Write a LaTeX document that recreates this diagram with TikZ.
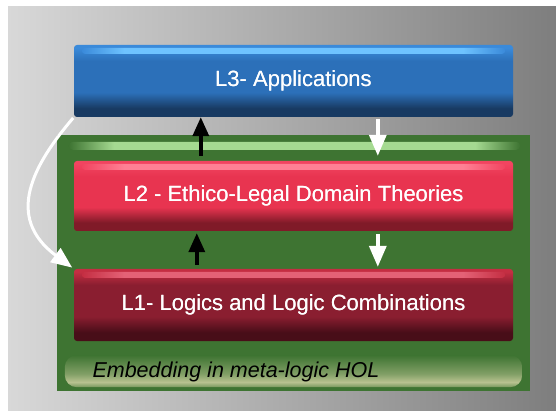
\documentclass[tikz,border=0pt]{standalone}
\usepackage{fontspec}
\setmainfont{Liberation Sans}
\usetikzlibrary{arrows.meta,calc}

\definecolor{bgL}{RGB}{216,216,216}
\definecolor{bgR}{RGB}{126,126,126}
\definecolor{gmain}{RGB}{62,116,50}
\definecolor{ghi}{RGB}{165,218,145}
\definecolor{gkhaki}{RGB}{184,194,144}
\definecolor{bhi}{RGB}{110,195,255}
\definecolor{bmid}{RGB}{44,112,185}
\definecolor{bdark}{RGB}{24,58,98}
\definecolor{btop}{RGB}{58,138,218}
\definecolor{rhi}{RGB}{255,128,148}
\definecolor{rmid}{RGB}{232,52,80}
\definecolor{rdark}{RGB}{128,26,40}
\definecolor{rtop}{RGB}{242,68,96}
\definecolor{qhi}{RGB}{228,98,118}
\definecolor{qmid}{RGB}{138,30,48}
\definecolor{qdark}{RGB}{72,14,24}
\definecolor{qtop}{RGB}{196,46,66}

% vertical body shadings (path fits 25bp..75bp)
\newcommand\bodyshading[4]{% name, top, mid, dark
  \pgfdeclareverticalshading{#1}{100bp}{color(0bp)=(#4); color(25bp)=(#4);
    color(31bp)=(#4); color(42bp)=(#3); color(64bp)=(#3); color(73bp)=(#2);
    color(75bp)=(#2); color(100bp)=(#2)}}
\bodyshading{blueshade}{btop}{bmid}{bdark}
\bodyshading{redshade}{rtop}{rmid}{rdark}
\bodyshading{dredshade}{qtop}{qmid}{qdark}
% horizontal highlight bands
\newcommand\bandshading[3]{% name, mid, hi
  \pgfdeclarehorizontalshading{#1}{100bp}{color(0bp)=(#2); color(25bp)=(#2);
    color(30bp)=(#3); color(70bp)=(#3); color(75bp)=(#2); color(100bp)=(#2)}}
\bandshading{blueband}{btop}{bhi}
\bandshading{redband}{rtop}{rhi}
\bandshading{dredband}{qtop}{qhi}
\bandshading{greenband}{gmain}{ghi}
\pgfdeclareverticalshading{khakiband}{100bp}{color(0bp)=(gmain); color(25bp)=(gmain!55!gkhaki);
  color(33bp)=(gkhaki); color(46bp)=(gkhaki!55!gmain); color(75bp)=(gmain); color(100bp)=(gmain)}

\begin{document}
\begin{tikzpicture}[x=1pt,y=-1pt,
  button/.style={minimum width=439pt, minimum height=72pt, inner sep=0pt,
    rounded corners=3pt, text=white, font=\fontsize{22}{26}\selectfont},
  band/.style={rounded corners=3pt},
  blackarrow/.style={draw=black, line width=3.5pt, -{Triangle[width=16pt,length=19pt]}},
  whitearrow/.style={draw=white, line width=3.5pt, -{Triangle[width=17pt,length=21pt]}}]
\useasboundingbox (0,0) rectangle (556,411);
\shade[left color=bgL, right color=bgR] (8,7) rectangle (556,411);

% container
\node[fill=gmain, minimum width=473pt, minimum height=256pt, inner sep=0pt] (embed) at (293.5,263) {};
\shade[shading=greenband, rounded corners=4pt] ([shift={(12,7)}]embed.north west) rectangle ([shift={(-10,15)}]embed.north east);
\shade[shading=khakiband, rounded corners=12pt] ([shift={(8,-36)}]embed.south west) rectangle ([shift={(-8,-4)}]embed.south east);
\node[anchor=base west, text=black, font=\fontsize{21.5}{26}\selectfont\itshape] (hol) at (89,377) {Embedding in meta-logic HOL};

% layers
\node[button, shading=blueshade] (L3) at (293.5,81) {L3- Applications};
\node[button, shading=redshade, minimum height=70pt] (L2) at (293.5,196) {L2 - Ethico-Legal Domain Theories};
\node[button, shading=dredshade] (L1) at (293.5,305) {L1- Logics and Logic Combinations};

% highlight bands (drawn over body, below text)
\shade[shading=blueband, band] ([shift={(8,3)}]L3.north west) rectangle ([shift={(-8,9)}]L3.north east);
\shade[shading=redband, band] ([shift={(8,3)}]L2.north west) rectangle ([shift={(-8,9)}]L2.north east);
\shade[shading=dredband, band] ([shift={(8,3)}]L1.north west) rectangle ([shift={(-8,9)}]L1.north east);
\node[text=white, font=\fontsize{22}{26}\selectfont] at (L3) {L3- Applications};
\node[text=white, font=\fontsize{22}{26}\selectfont] at (L2) {L2 - Ethico-Legal Domain Theories};
\node[text=white, font=\fontsize{22}{26}\selectfont] at (L1) {L1- Logics and Logic Combinations};

% arrows
\draw[blackarrow, shorten <=5pt] ([xshift=127pt]L2.north west) -- ([xshift=127pt]L3.south west);
\draw[whitearrow, shorten <=2pt, shorten >=5pt] ([xshift=304pt]L3.south west) -- ([xshift=304pt]L2.north west);
\draw[blackarrow, shorten <=4pt, shorten >=2pt] ([xshift=123pt]L1.north west) -- ([xshift=123pt]L2.south west);
\draw[whitearrow, shorten <=3pt, shorten >=2pt] ([xshift=304pt]L2.south west) -- ([xshift=304pt]L1.north west);
\draw[whitearrow, line width=3pt, shorten <=1pt, shorten >=2pt] (L3.south west) .. controls +(-40,47) and +(-70,-52) .. (L1.north west);
\end{tikzpicture}
\end{document}
